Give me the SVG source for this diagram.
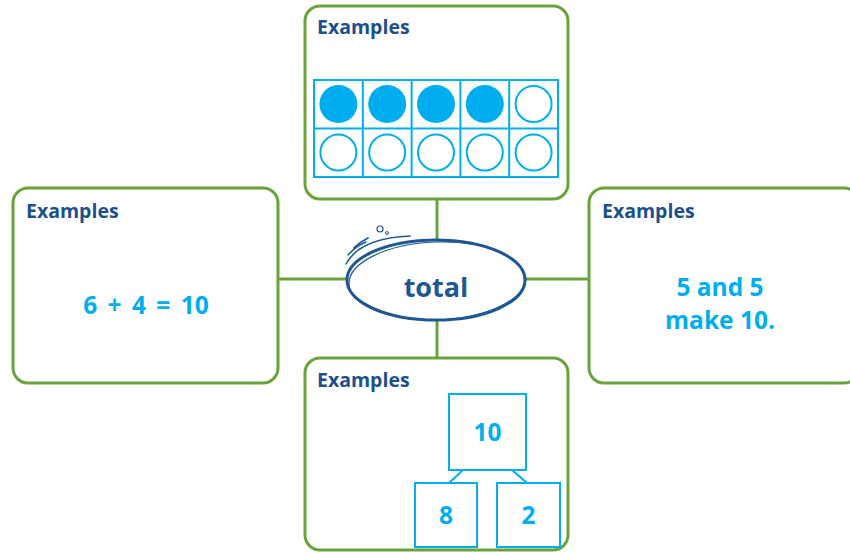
<svg xmlns="http://www.w3.org/2000/svg" width="850" height="554" viewBox="0 0 850 554">
<style>
.box{fill:#fff;stroke:#6aa33a;stroke-width:3}
.conn{stroke:#6aa33a;stroke-width:3;fill:none}
.hd{font-family:"Open Sans","Liberation Sans",sans-serif;font-weight:bold;font-size:19.5px;fill:#1d4f8b;letter-spacing:0px}
.val{font-family:"Open Sans","Liberation Sans",sans-serif;font-weight:bold;font-size:24.5px;fill:#00aeef}
.cell{fill:#fff;stroke:#00aeef;stroke-width:2}
.sq{fill:#fff;stroke:#00aeef;stroke-width:2}
.dot{fill:#00aeef}
.ring{fill:#fff;stroke:#00aeef;stroke-width:2}
.sk{fill:none;stroke:#1f5794;stroke-linecap:round}
</style>
<g id="connectors">
<line class="conn" x1="437" y1="199" x2="437" y2="245"/>
<line class="conn" x1="437" y1="315" x2="437" y2="358"/>
<line class="conn" x1="278" y1="279" x2="350" y2="279"/>
<line class="conn" x1="522" y1="279" x2="589" y2="279"/>
</g>
<g id="node-top">
<rect class="box" x="305" y="6" width="263" height="193" rx="15"/>
<text class="hd" x="317" y="34">Examples</text>
<rect class="cell" x="314" y="80" width="244" height="97"/>
<line class="cell" x1="314" y1="128.5" x2="558" y2="128.5"/>
<line class="cell" x1="362.8" y1="80" x2="362.8" y2="177"/>
<line class="cell" x1="411.6" y1="80" x2="411.6" y2="177"/>
<line class="cell" x1="460.4" y1="80" x2="460.4" y2="177"/>
<line class="cell" x1="509.2" y1="80" x2="509.2" y2="177"/>
<circle class="dot" cx="338.4" cy="104" r="19"/>
<circle class="dot" cx="387.2" cy="104" r="19"/>
<circle class="dot" cx="436" cy="104" r="19"/>
<circle class="dot" cx="484.8" cy="104" r="19"/>
<circle class="ring" cx="533.6" cy="104" r="18"/>
<circle class="ring" cx="338.4" cy="152.5" r="18"/>
<circle class="ring" cx="387.2" cy="152.5" r="18"/>
<circle class="ring" cx="436" cy="152.5" r="18"/>
<circle class="ring" cx="484.8" cy="152.5" r="18"/>
<circle class="ring" cx="533.6" cy="152.5" r="18"/>
</g>
<g id="node-left">
<rect class="box" x="13" y="188" width="265" height="195" rx="15"/>
<text class="hd" x="26" y="218">Examples</text>
<text class="val" x="146" y="314" text-anchor="middle" word-spacing="4">6 + 4 = 10</text>
</g>
<g id="node-right">
<rect class="box" x="589" y="188" width="270" height="195" rx="15"/>
<text class="hd" x="602" y="218">Examples</text>
<text class="val" x="720" y="296" text-anchor="middle">5 and 5</text>
<text class="val" x="720" y="329" text-anchor="middle">make 10.</text>
</g>
<g id="node-bottom">
<rect class="box" x="305" y="358" width="263" height="192" rx="15"/>
<text class="hd" x="317" y="387">Examples</text>
<line class="sq" x1="463" y1="470" x2="449" y2="483"/>
<line class="sq" x1="512" y1="470" x2="527" y2="483"/>
<rect class="sq" x="449" y="394" width="77" height="76"/>
<rect class="sq" x="415" y="483" width="62" height="64"/>
<rect class="sq" x="497" y="483" width="63" height="64"/>
<text class="val" x="487.5" y="441" text-anchor="middle">10</text>
<text class="val" x="446" y="524" text-anchor="middle">8</text>
<text class="val" x="528.5" y="524" text-anchor="middle">2</text>
</g>
<g id="node-total">
<ellipse cx="436" cy="280" rx="89" ry="40" fill="#fff"/>
<ellipse class="sk" cx="436" cy="280" rx="89" ry="40" stroke-width="3"/>
<ellipse class="sk" cx="437" cy="281" rx="88" ry="39" stroke-width="1.2" transform="rotate(-2 437 281)"/>
<path class="sk" d="M346 264 Q360 238 410 236" stroke-width="1.5"/>
<path class="sk" d="M354 248 Q360 242 368 238" stroke-width="1.8"/>
<path class="sk" d="M348 255 Q356 246 366 242" stroke-width="1.4"/>
<circle class="sk" cx="380" cy="229" r="3" stroke-width="1.2"/>
<circle class="sk" cx="387" cy="233" r="1.5" stroke-width="1"/>
<text x="436" y="297" text-anchor="middle" font-family="'Open Sans','Liberation Sans',sans-serif" font-weight="bold" font-size="27" fill="#1f5794">total</text>
</g>
</svg>
